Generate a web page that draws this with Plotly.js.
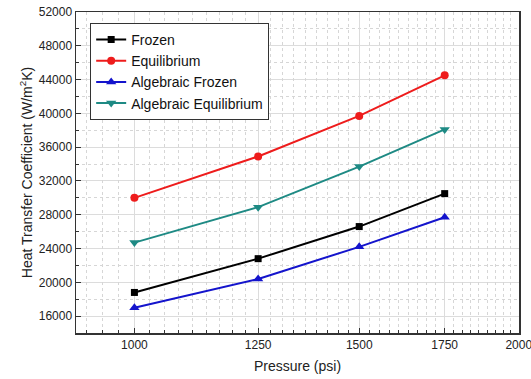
<!DOCTYPE html>
<html>
<head>
<meta charset="utf-8">
<script src="https://cdn.plot.ly/plotly-3.0.1.min.js"></script>
<style>html,body{margin:0;padding:0;background:#fff;}#chart{width:531px;height:379px;}</style>
</head>
<body>
<div id="chart"></div>
<script>
const pressure = [1000, 1250, 1500, 1750];
const frozen = [18800, 22800, 26600, 30500];
const equilibrium = [30000, 34900, 39700, 44500];
const algebraicFrozen = [17000, 20400, 24200, 27700];
const algebraicEquilibrium = [24700, 28900, 33700, 38100];
const xTickVals = [1000, 1250, 1500, 1750, 2000];
const xTickText = ['1000', '1250', '1500', '1750', '2000'];

// minor tick positions: 8 minor ticks between each pair of major ticks
const xMinor = [];
const majorsForMinor = [750, 1000, 1250, 1500, 1750];
majorsForMinor.forEach(m => { for (let k = 1; k <= 8; k++) xMinor.push(m + k * 250 / 9); });

const xRange = [Math.log10(900), Math.log10(2001)];

function tr(name, y, color, symbol, size) {
  return {
    x: pressure, y: y, name: name, type: 'scatter', mode: 'lines+markers',
    line: {color: color, width: 2},
    marker: {color: color, symbol: symbol, size: size}
  };
}

const data = [
  {x: pressure, y: frozen, xaxis: 'x2', yaxis: 'y', type: 'scatter', mode: 'markers',
   marker: {opacity: 0, size: 1}, showlegend: false, hoverinfo: 'skip'},
  tr('Frozen', frozen, '#000000', 'square', 7),
  tr('Equilibrium', equilibrium, '#ee1c1c', 'circle', 8),
  tr('Algebraic Frozen', algebraicFrozen, '#1414cc', 'triangle-up', 9),
  tr('Algebraic Equilibrium', algebraicEquilibrium, '#1e8a84', 'triangle-down', 9)
];

const font = {family: 'Liberation Sans, Arial, sans-serif', color: '#222'};

const layout = {
  width: 531, height: 379,
  margin: {l: 76, r: 12, t: 12, b: 46},
  paper_bgcolor: '#fff', plot_bgcolor: '#fff',
  font: font,
  showlegend: true,
  legend: {
    x: 0.032, y: 0.966, xanchor: 'left', yanchor: 'top',
    bgcolor: '#fff', bordercolor: '#333', borderwidth: 1,
    font: {family: font.family, size: 14, color: '#111'},
    tracegroupgap: 0
  },
  xaxis: {
    type: 'log',
    range: xRange,
    tickmode: 'array', tickvals: xTickVals, ticktext: xTickText,
    ticks: 'inside', ticklen: 5, tickwidth: 1, tickcolor: '#333',
    ticklabeloverflow: 'allow',
    showline: true, linecolor: '#333', linewidth: 1.5, mirror: true,
    showgrid: true, gridcolor: '#dcdcdc', gridwidth: 1,
    zeroline: false,
    tickfont: {size: 12, color: '#222'},
    title: {text: 'Pressure (psi)', font: {size: 14, color: '#222'}, standoff: 10}
  },
  xaxis2: {
    type: 'log',
    range: xRange,
    overlaying: 'x', anchor: 'y', side: 'bottom',
    tickmode: 'array', tickvals: xMinor,
    ticks: 'inside', ticklen: 3, tickwidth: 1, tickcolor: '#333',
    showticklabels: false, showline: false, zeroline: false,
    showgrid: true, gridcolor: '#d6d6d6', griddash: 'dot', gridwidth: 1
  },
  yaxis: {
    range: [14000, 52000],
    tick0: 0, dtick: 4000, tickformat: 'd',
    ticks: 'inside', ticklen: 5, tickwidth: 1, tickcolor: '#333',
    showline: true, linecolor: '#333', linewidth: 1.5, mirror: true,
    showgrid: true, gridcolor: '#dcdcdc', gridwidth: 1,
    zeroline: false,
    tickfont: {size: 12, color: '#222'},
    title: {text: 'Heat Transfer Coefficient (W/m<sup>2</sup>K)', font: {size: 14, color: '#222'}, standoff: 3},
    minor: {
      dtick: 2000, ticks: 'inside', ticklen: 3, tickcolor: '#333',
      showgrid: true, gridcolor: '#d6d6d6', griddash: 'dot', gridwidth: 1
    }
  }
};

Plotly.newPlot('chart', data, layout, {staticPlot: true, displayModeBar: false});
</script>
</body>
</html>
